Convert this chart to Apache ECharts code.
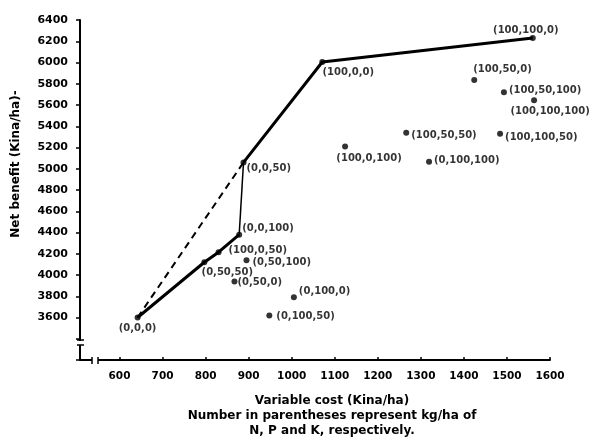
<!DOCTYPE html>
<html>
<head>
<meta charset="utf-8">
<script src="https://cdn.jsdelivr.net/npm/echarts@6/dist/echarts.min.js"></script>
<style>html,body{margin:0;padding:0;background:#fff}#c{width:594px;height:439px}</style>
</head>
<body>
<div id="c"></div>
<script>
// ---- data ----
var treatments = ["(0,0,0)","(0,50,50)","(100,0,50)","(0,0,100)","(0,0,50)","(0,50,100)","(0,50,0)","(0,100,0)","(0,100,50)","(100,0,0)","(100,100,0)","(100,50,0)","(100,50,100)","(100,100,100)","(100,50,50)","(100,100,50)","(100,0,100)","(0,100,100)"];
var variableCost = [642, 797, 830, 878, 888, 895, 867, 1005, 948, 1071, 1560, 1424, 1493, 1563, 1266, 1484, 1124, 1319];
var netBenefit = [3600, 4120, 4215, 4380, 5060, 4140, 3940, 3790, 3620, 6005, 6230, 5835, 5720, 5645, 5340, 5330, 5210, 5065];
var frontierThickA = ["(0,0,0)","(0,50,50)","(100,0,50)","(0,0,100)"];
var frontierThin = ["(0,0,100)","(0,0,50)"];
var frontierThickB = ["(0,0,50)","(100,0,0)","(100,100,0)"];
var dashedPath = ["(0,0,0)","(0,0,50)"];
var xTicks = [600,700,800,900,1000,1100,1200,1300,1400,1500,1600];
var yTicks = [3600,3800,4000,4200,4400,4600,4800,5000,5200,5400,5600,5800,6000,6200,6400];

// ---- label placement (style) ----
var labelStyle = {
  "(0,0,0)": {position:"bottom", offset:[0,0]},
  "(0,50,50)": {position:"bottom", offset:[23,-1]},
  "(100,0,50)": {position:"right", offset:[4,-2]},
  "(0,0,100)": {position:"right", offset:[-3,-6]},
  "(0,0,50)": {position:"right", offset:[-3,6]},
  "(0,50,100)": {position:"right", offset:[0,2]},
  "(0,50,0)": {position:"right", offset:[-3,1]},
  "(0,100,0)": {position:"right", offset:[-1,-6]},
  "(0,100,50)": {position:"right", offset:[1,1]},
  "(100,0,0)": {position:"bottom", offset:[26,-1]},
  "(100,100,0)": {position:"top", offset:[-7,3]},
  "(100,50,0)": {position:"right", offset:[-7,-11]},
  "(100,50,100)": {position:"right", offset:[-1,-2]},
  "(100,100,100)": {position:"bottom", offset:[16,0]},
  "(100,50,50)": {position:"right", offset:[-1,3]},
  "(100,100,50)": {position:"right", offset:[-1,4]},
  "(100,0,100)": {position:"bottom", offset:[24,1]},
  "(0,100,100)": {position:"right", offset:[-1,-1]}
};

function pt(name){ var i = treatments.indexOf(name); return [variableCost[i], netBenefit[i]]; }
function path(names){ return names.map(pt); }

var FONT = '"DejaVu Sans", sans-serif';
var chart = echarts.init(document.getElementById('c'), null, {renderer:'canvas'});

var scatterData = treatments.map(function(t, i){
  var s = labelStyle[t];
  return {value:[variableCost[i], netBenefit[i]], name:t, label:{show:true, position:s.position, offset:s.offset, formatter:t}};
});

chart.setOption({
  animation:false,
  backgroundColor:'#fff',
  grid:{left:98, right:44, top:20, bottom:79, containLabel:false, outerBoundsMode:'none'},
  xAxis:{
    type:'value', min:550, max:1600,
    axisLine:{show:true, lineStyle:{color:'#000', width:2}},
    axisTick:{show:true, inside:true, length:3, customValues:xTicks, lineStyle:{color:'#000', width:1.5}},
    axisLabel:{customValues:xTicks, color:'#000', fontFamily:FONT, fontWeight:'bold', fontSize:10.5, margin:11,
      formatter:function(v){ return String(v); }},
    splitLine:{show:false},
    name:'Variable cost (Kina/ha)\nNumber in parentheses represent kg/ha of\nN, P and K, respectively.',
    nameLocation:'middle', nameGap:33,
    nameTextStyle:{color:'#000', fontFamily:FONT, fontWeight:'bold', fontSize:12, lineHeight:15, align:'center', verticalAlign:'top', padding:[0,0,0,16]}
  },
  yAxis:{
    type:'value', min:3200, max:6400, interval:200, offset:18,
    axisLine:{show:true, lineStyle:{color:'#000', width:2}},
    axisTick:{show:true, length:4, lineStyle:{color:'#000', width:1.5}},
    axisLabel:{color:'#000', fontFamily:FONT, fontWeight:'bold', fontSize:11, margin:12,
      formatter:function(v){ return yTicks.indexOf(v) >= 0 ? String(v) : ''; }},
    splitLine:{show:false}
  },
  graphic:[
    {type:'text', x:16, y:164, rotation:Math.PI/2, style:{text:'Net benefit (Kina/ha)-', fill:'#000', font:'bold 12px '+FONT, align:'center', verticalAlign:'middle'}, silent:true},
    {type:'rect', shape:{x:76, y:341, width:8, height:4}, style:{fill:'#fff'}, z:100},
    {type:'line', shape:{x1:77, y1:340, x2:84, y2:340}, style:{stroke:'#000', lineWidth:1.5}, z:101},
    {type:'line', shape:{x1:77, y1:345, x2:84, y2:345}, style:{stroke:'#000', lineWidth:1.5}, z:101},
    {type:'rect', shape:{x:82, y:352, width:16, height:12}, style:{fill:'#fff'}, z:100},
    {type:'line', shape:{x1:80, y1:360, x2:92, y2:360}, style:{stroke:'#000', lineWidth:2}, z:101},
    {type:'line', shape:{x1:92, y1:357, x2:92, y2:364}, style:{stroke:'#000', lineWidth:1.5}, z:101},
    {type:'line', shape:{x1:98, y1:357, x2:98, y2:364}, style:{stroke:'#000', lineWidth:1.5}, z:101}
  ],
  series:[
    {type:'line', data:path(dashedPath), symbol:'none', lineStyle:{color:'#000', width:2, type:[7,5]}, z:2},
    {type:'line', data:path(frontierThickA), symbol:'none', lineStyle:{color:'#000', width:3}, z:3},
    {type:'line', data:path(frontierThin), symbol:'none', lineStyle:{color:'#000', width:1.5}, z:3},
    {type:'line', data:path(frontierThickB), symbol:'none', lineStyle:{color:'#000', width:3}, z:3},
    {type:'scatter', data:scatterData, symbol:'circle', symbolSize:6, itemStyle:{color:'#000'}, z:4,
      label:{color:'#000', fontFamily:FONT, fontWeight:'bold', fontSize:10, distance:3}}
  ]
});
</script>
</body>
</html>
